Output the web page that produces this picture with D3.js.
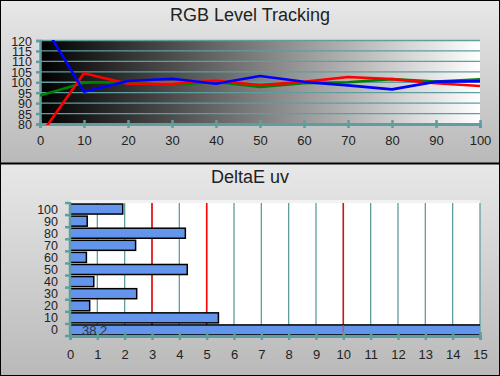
<!DOCTYPE html>
<html><head><meta charset="utf-8">
<script src="https://cdn.jsdelivr.net/npm/d3@7"></script>
<style>body{margin:0;background:#fff}svg{display:block;font-family:"Liberation Sans",Arial,sans-serif}</style>
</head><body>
<script>
// ---- data ----
const levels = [0,10,20,30,40,50,60,70,80,90,100];
const redVals   = [74.4,104.3,99.3,99.3,100.7,98.7,100.2,102.5,101.5,99.5,98.2];
const greenVals = [93.6,99.8,100.1,98.7,100.1,97.7,99.5,100.0,101.5,100.3,101.4];
const blueVals  = [130.5,95.5,100.6,101.7,99.3,103.0,100.2,98.5,96.6,100.3,100.5];
const rgbYTicks = [80,85,90,95,100,105,110,115,120];
const rgbXTicks = [0,10,20,30,40,50,60,70,80,90,100];
const deCats = ["0","10","20","30","40","50","60","70","80","90","100"];
const deVals = [38.2,5.43,0.72,2.44,0.87,4.29,0.60,2.40,4.22,0.63,1.93];
const deXTicks = [0,1,2,3,4,5,6,7,8,9,10,11,12,13,14,15];
const deRefLines = [3,5,10];

const W=500,H=376;
const svg=d3.select("body").append("svg").attr("width",W).attr("height",H);
const defs=svg.append("defs");
const pg=defs.append("linearGradient").attr("id","panel").attr("x1",0).attr("y1",0).attr("x2",0).attr("y2",1);
pg.append("stop").attr("offset","0%").attr("stop-color","#e8e8e8");
pg.append("stop").attr("offset","100%").attr("stop-color","#b9b9b9");
const bw=defs.append("linearGradient").attr("id","bw").attr("x1",0).attr("y1",0).attr("x2",1).attr("y2",0);
bw.append("stop").attr("offset","0%").attr("stop-color","#000");
bw.append("stop").attr("offset","100%").attr("stop-color","#fff");

svg.append("rect").attr("x",0).attr("y",0).attr("width",W).attr("height",163).attr("fill","url(#panel)");
svg.append("rect").attr("x",0).attr("y",164).attr("width",W).attr("height",212).attr("fill","url(#panel)");
svg.append("line").attr("x1",0).attr("x2",W).attr("y1",163.5).attr("y2",163.5).attr("stroke","#000").attr("stroke-width",2);
svg.append("rect").attr("x",0.5).attr("y",0.5).attr("width",W-1).attr("height",H-1).attr("fill","none").attr("stroke","#000");

const teal="#5f9e9e", txt="#222";

// ---- top chart ----
svg.append("text").attr("x",250).attr("y",21).attr("text-anchor","middle").attr("font-size",18).attr("fill","#222").text("RGB Level Tracking");
const x1=d3.scaleLinear().domain([0,100]).range([40,480]);
const y1=d3.scaleLinear().domain([80,120]).range([124,40.5]);
svg.append("rect").attr("x",40).attr("y",40.5).attr("width",440).attr("height",83.5).attr("fill","url(#bw)");
const g1=svg.append("g");
g1.selectAll("line.h").data(rgbYTicks.slice(1)).join("line")
  .attr("x1",40).attr("x2",480).attr("y1",d=>y1(d)).attr("y2",d=>y1(d)).attr("stroke",teal).attr("stroke-width",1.3);
// y axis
const ya=g1.append("g").attr("transform","translate(40,0)").call(d3.axisLeft(y1).tickValues(rgbYTicks).tickSize(4).tickPadding(4));
ya.select(".domain").attr("stroke",teal).attr("stroke-width",2.5);
ya.selectAll(".tick line").attr("stroke",teal).attr("stroke-width",2.5);
ya.selectAll("text").attr("font-size",12.5).attr("fill",txt).attr("font-family","Liberation Sans,Arial").attr("dy","0.36em");
// x axis
const xa=g1.append("g").attr("transform","translate(0,124)").call(d3.axisBottom(x1).tickValues(rgbXTicks).tickSize(4).tickPadding(8));
xa.select(".domain").attr("stroke",teal).attr("stroke-width",3);
xa.selectAll(".tick line").attr("stroke",teal).attr("stroke-width",2.5).attr("y1",-4);
xa.selectAll("text").attr("font-size",13).attr("fill",txt).attr("font-family","Liberation Sans,Arial");
defs.append("clipPath").attr("id","c1").append("rect").attr("x",40).attr("y",40).attr("width",441).attr("height",85);
const line=d3.line().x((d,i)=>x1(levels[i])).y(d=>y1(d));
const lg=svg.append("g").attr("clip-path","url(#c1)");
[[greenVals,"#008000"],[redVals,"#ff0000"],[blueVals,"#0000ff"]].forEach(([v,c])=>{
  lg.append("path").datum(v).attr("d",line).attr("fill","none").attr("stroke",c).attr("stroke-width",2.6).attr("stroke-linejoin","round");
});

// ---- bottom chart ----
svg.append("text").attr("x",250).attr("y",183).attr("text-anchor","middle").attr("font-size",18).attr("fill","#222").text("DeltaE uv");
const x2=d3.scaleLinear().domain([0,15]).range([70,480]);
const y2=d3.scaleBand().domain(deCats.slice().reverse()).range([203,336]).paddingInner(0.17).paddingOuter(0.085);
svg.append("rect").attr("x",70).attr("y",200).attr("width",410).attr("height",4).attr("fill","#f2f2f2");
svg.append("rect").attr("x",70).attr("y",203).attr("width",410).attr("height",133).attr("fill","#fff");
const g2=svg.append("g");
g2.selectAll("line.v").data(deXTicks.slice(1)).join("line")
  .attr("x1",d=>x2(d)).attr("x2",d=>x2(d)).attr("y1",203).attr("y2",336).attr("stroke",teal).attr("stroke-width",1.3);
g2.selectAll("line.r").data(deRefLines).join("line")
  .attr("x1",d=>x2(d)).attr("x2",d=>x2(d)).attr("y1",203).attr("y2",336).attr("stroke","#ff0000").attr("stroke-width",1.5);
defs.append("clipPath").attr("id","c2").append("rect").attr("x",60).attr("y",200).attr("width",420).attr("height",140);
const bg=svg.append("g").attr("clip-path","url(#c2)");
bg.selectAll("rect").data(deVals).join("rect")
  .attr("x",x2(0)).attr("y",(d,i)=>y2(deCats[i])).attr("height",y2.bandwidth())
  .attr("width",d=>x2(d)-x2(0)).attr("fill","#6495ed").attr("stroke","#000").attr("stroke-width",1.5);
svg.append("line").attr("x1",x2(10)).attr("x2",x2(10)).attr("y1",y2("0")).attr("y2",336).attr("stroke","#ff3030").attr("stroke-width",1.5).attr("opacity",0.8);
svg.append("text").attr("x",x2(0)+12).attr("y",y2("0")+y2.bandwidth()/2+5).attr("font-size",13).attr("fill","#333").text(String(deVals[0]).replace(".",","));
// left axis: ticks at band boundaries
const bounds=deCats.map(c=>y2(c)-y2.step()*y2.paddingInner()/2).concat([336]);
svg.append("line").attr("x1",70).attr("x2",70).attr("y1",202).attr("y2",337).attr("stroke",teal).attr("stroke-width",2.5);
svg.selectAll("line.lt").data(bounds).join("line").attr("x1",65).attr("x2",70).attr("y1",d=>d).attr("y2",d=>d).attr("stroke",teal).attr("stroke-width",2.5);
svg.selectAll("text.cat").data(deCats).join("text").attr("class","cat")
  .attr("x",58).attr("y",d=>y2(d)+y2.bandwidth()/2).attr("dy","0.36em").attr("text-anchor","end")
  .attr("font-size",12.5).attr("fill",txt).text(d=>d);
const xb=svg.append("g").attr("transform","translate(0,336)").call(d3.axisBottom(x2).tickValues(deXTicks).tickSize(4).tickPadding(10));
xb.select(".domain").attr("stroke",teal).attr("stroke-width",3);
xb.selectAll(".tick line").attr("stroke",teal).attr("stroke-width",2.5).attr("y1",-4);
xb.selectAll("text").attr("font-size",13).attr("fill",txt).attr("font-family","Liberation Sans,Arial");
</script>
</body></html>
